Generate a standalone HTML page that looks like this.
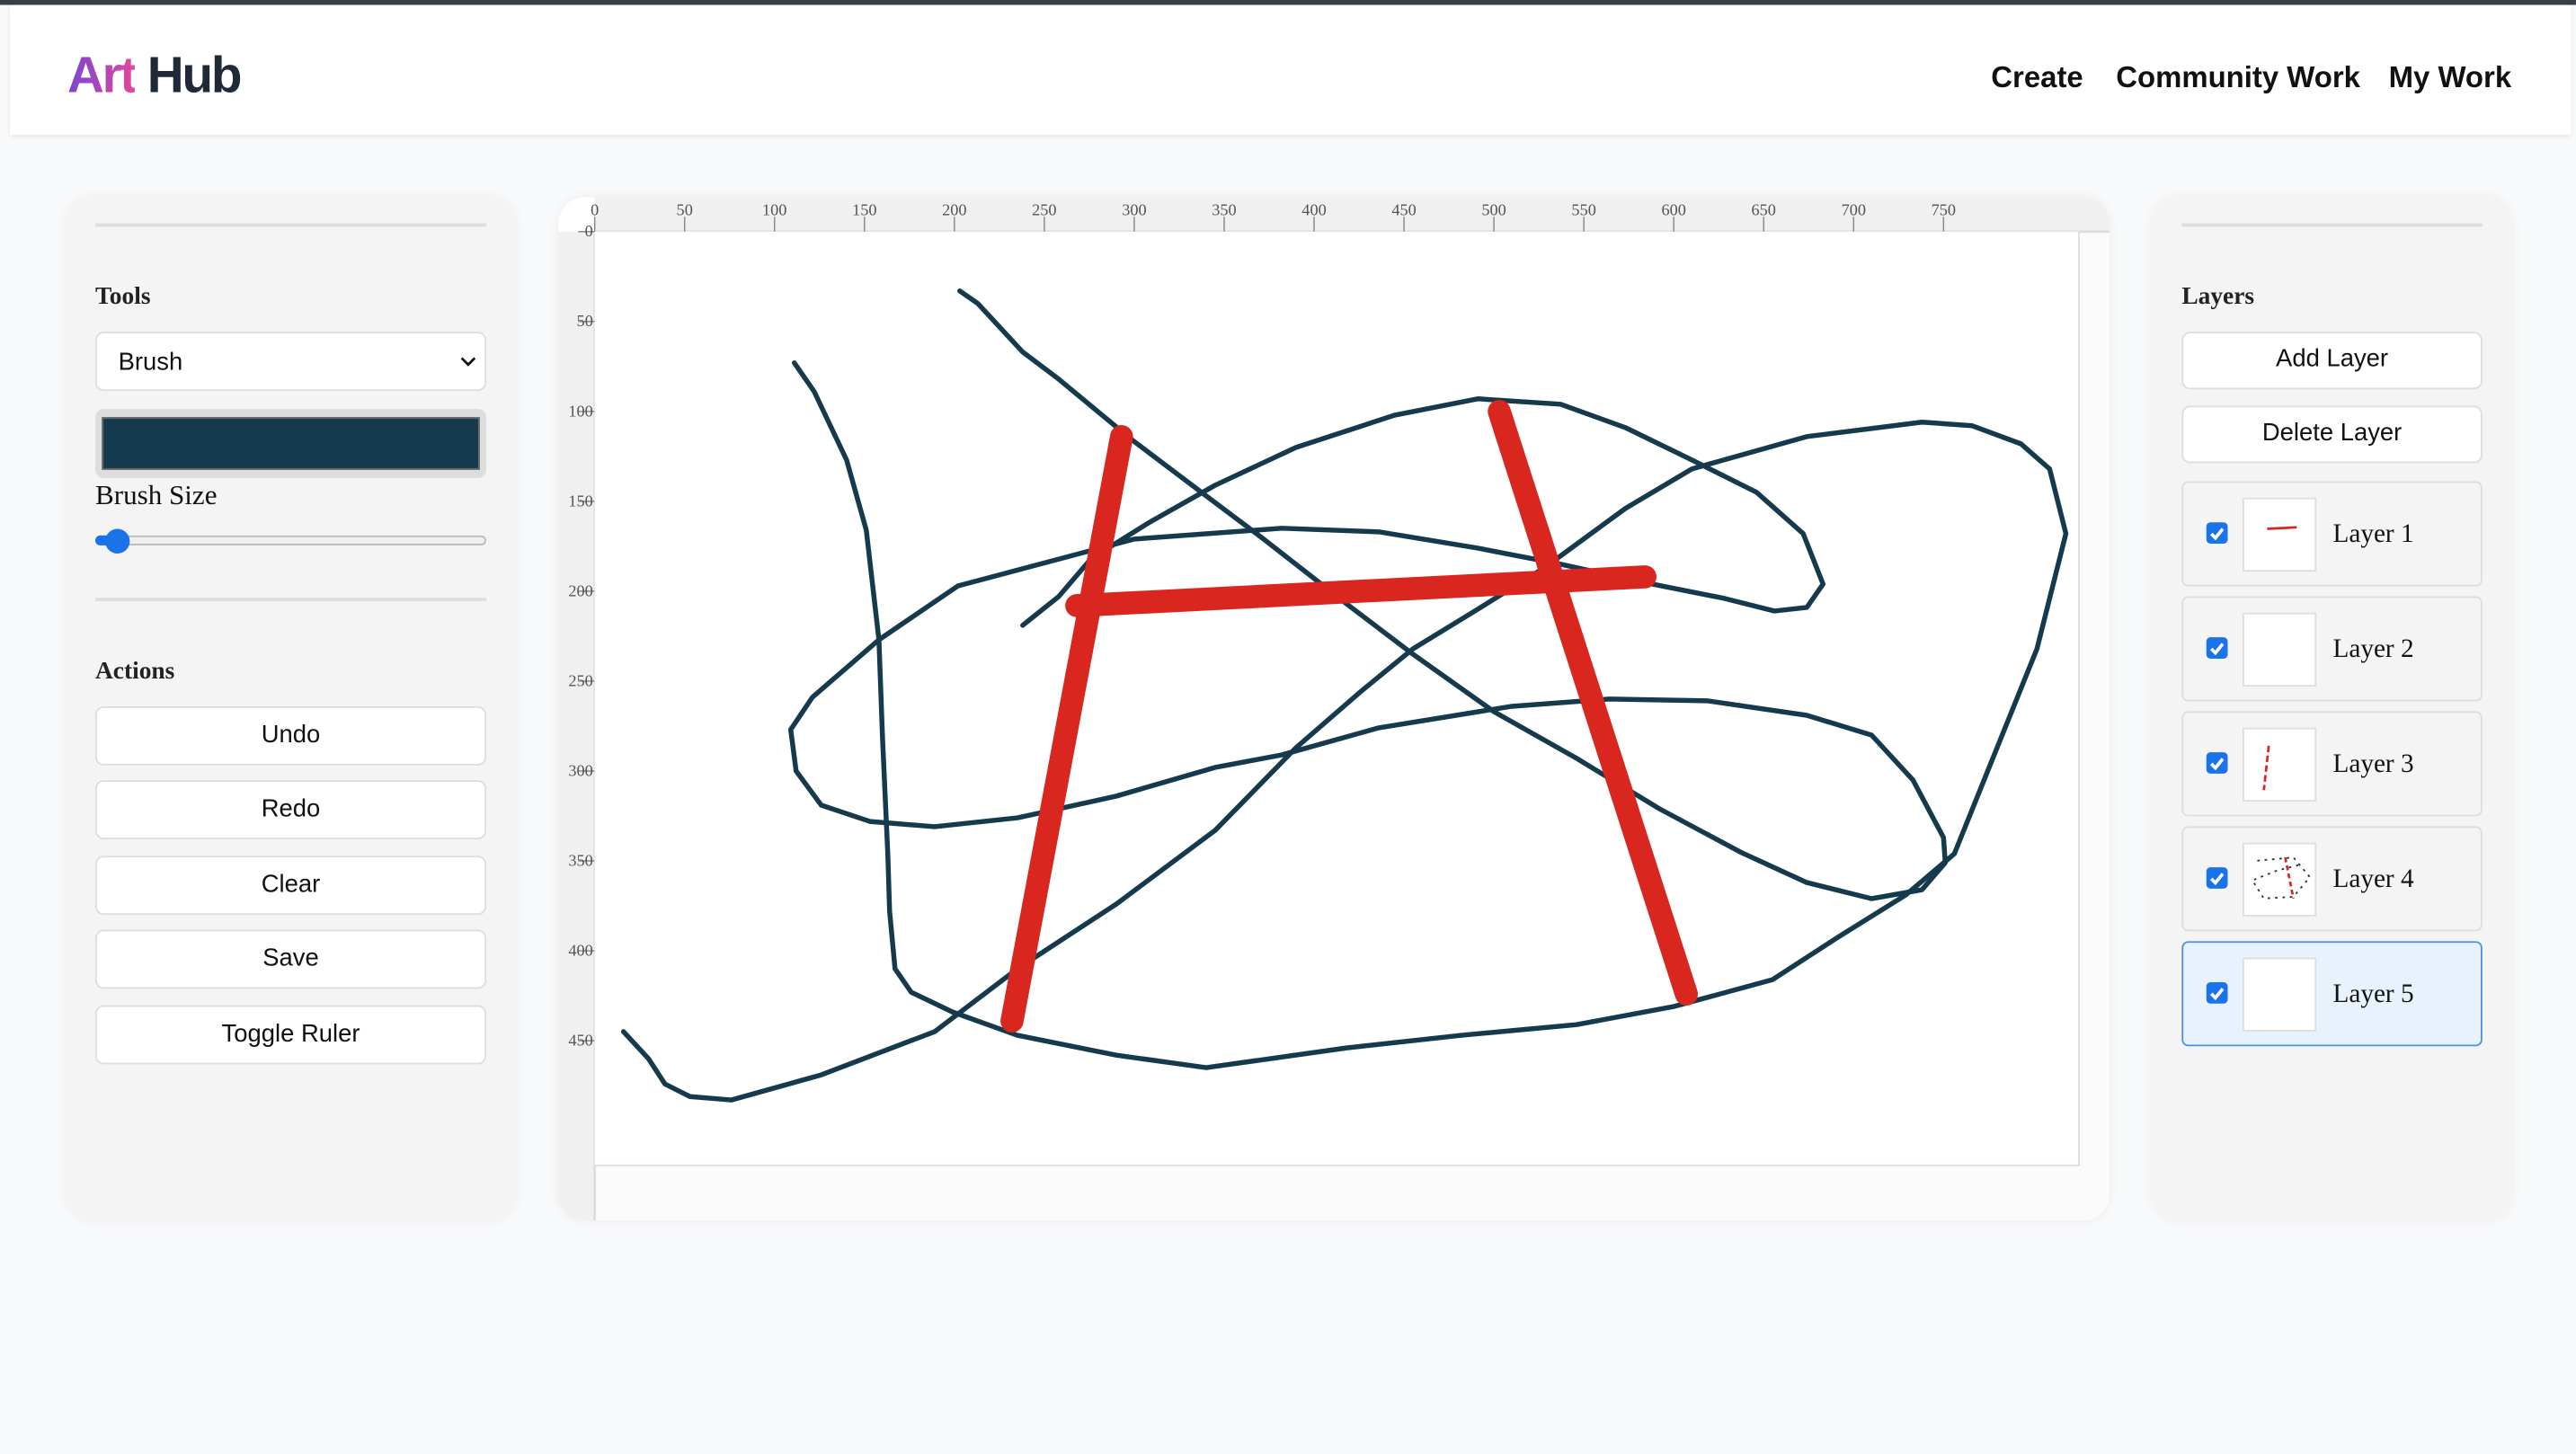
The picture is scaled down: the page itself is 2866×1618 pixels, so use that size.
<!DOCTYPE html>
<html><head><meta charset="utf-8"><style>
html,body{margin:0;padding:0;}
body{width:2866px;height:1618px;overflow:hidden;background:#f8f9fa;}
#wrap{position:absolute;left:0;top:0;width:1568px;height:885px;transform:scale(1.8278);transform-origin:0 0;font-family:"Liberation Sans",sans-serif;}
.abs{position:absolute;}
#topbar{left:0;top:0;width:1568px;height:2.5px;background:#3a3d4a;}
#header{left:6px;top:3px;width:1559px;height:79px;background:#fff;box-shadow:0 1px 3px rgba(0,0,0,.1);}
#logo{left:35px;top:25px;font-size:31px;font-weight:bold;letter-spacing:-1.2px;color:#1f2937;}
#logo span{background:linear-gradient(90deg,#7a45d3,#e0489a);-webkit-background-clip:text;background-clip:text;color:transparent;}
.nav{top:34px;font-size:18px;font-weight:bold;color:#111;}
.panel{background:#f4f4f4;border-radius:16px;box-shadow:0 0 6px rgba(0,0,0,.05);}
.div{height:2px;background:#ddd;}
.h{font-family:"Liberation Serif",serif;font-weight:bold;font-size:15px;color:#222;}
.btn{background:#fff;border:1.5px solid #ddd;border-radius:5px;box-sizing:border-box;text-align:center;font-size:15px;color:#111;}
.layer{left:1328px;width:183px;height:64px;background:#f4f4f4;border:1.5px solid #ddd;border-radius:4px;box-sizing:border-box;}
.cb{left:14px;width:13px;height:13px;background:#1a73e8;border-radius:2.5px;top:24px;}
.th{left:36px;top:9px;width:45px;height:45px;background:#fff;border:1px solid #ddd;box-sizing:border-box;}
.lt{left:91px;top:23px;font-family:"Liberation Serif",serif;font-size:16px;color:#111;}
</style></head><body>
<div id="wrap">
<div id="topbar" class="abs"></div>
<div id="header" class="abs">
 <div id="logo" class="abs"><span>Art</span> Hub</div>
 <div class="abs nav" style="left:1206px">Create</div>
 <div class="abs nav" style="left:1282px">Community Work</div>
 <div class="abs nav" style="left:1448px">My Work</div>
</div>

<div class="abs panel" style="left:40px;top:120px;width:274px;height:623px">
 <div class="abs div" style="left:18px;top:16px;width:238px"></div>
 <div class="abs h" style="left:18px;top:53px">Tools</div>
 <div class="abs btn" style="left:18px;top:82px;width:238px;height:36px;text-align:left;padding:9px 0 0 13px">Brush
  <svg class="abs" style="right:5px;top:13px" width="10" height="8" viewBox="0 0 10 8"><path d="M1 2 L5 6 L9 2" fill="none" stroke="#111" stroke-width="1.5"/></svg></div>
 <div class="abs" style="left:18px;top:129px;width:238px;height:42px;background:#ddd;border-radius:5px">
  <div class="abs" style="left:4px;top:5px;width:230px;height:32px;background:#163a4d;border:1.5px solid #666;box-sizing:border-box"></div></div>
 <div class="abs" style="left:18px;top:172px;font-family:'Liberation Serif',serif;font-size:17px;color:#111">Brush Size</div>
 <div class="abs" style="left:18px;top:206px;width:238px;height:6px;background:#efefef;border:1px solid #bbb;border-radius:4px;box-sizing:border-box"></div>
 <div class="abs" style="left:18px;top:206px;width:14px;height:6px;background:#1a73e8;border-radius:4px"></div>
 <div class="abs" style="left:24px;top:202px;width:15px;height:15px;background:#1a73e8;border-radius:50%"></div>
 <div class="abs div" style="left:18px;top:244px;width:238px"></div>
 <div class="abs h" style="left:18px;top:281px">Actions</div>
 <div class="abs btn" style="left:18px;top:310px;width:238px;height:36px;line-height:33px">Undo</div>
 <div class="abs btn" style="left:18px;top:355px;width:238px;height:36px;line-height:33px">Redo</div>
 <div class="abs btn" style="left:18px;top:401px;width:238px;height:36px;line-height:33px">Clear</div>
 <div class="abs btn" style="left:18px;top:446px;width:238px;height:36px;line-height:33px">Save</div>
 <div class="abs btn" style="left:18px;top:492px;width:238px;height:36px;line-height:33px">Toggle Ruler</div>
</div>

<div class="abs" style="left:340px;top:120px;width:944px;height:623px;background:#fbfbfb;border-radius:16px;overflow:hidden;box-shadow:0 0 6px rgba(0,0,0,.05)">
 <svg class="abs" style="left:0;top:0" width="944" height="623">
  <rect x="22" y="0" width="922" height="21" fill="#f0f0f0"/>
  <rect x="0" y="21" width="22" height="602" fill="#f0f0f0"/>
  <rect x="0" y="0" width="22" height="21" fill="#fff"/>
  <line x1="22" y1="21" x2="944" y2="21" stroke="#ddd" stroke-width="1.5"/>
  <line x1="22" y1="21" x2="22" y2="623" stroke="#ddd" stroke-width="1.5"/>
  <g id="ticks"></g>
 </svg>
 <svg class="abs" style="left:22px;top:21px;background:#fff;border-right:1.5px solid #ddd;border-bottom:1.5px solid #ddd" width="903" height="568">
  <g id="strokes" fill="none" stroke-linecap="round" stroke-linejoin="round"></g>
 </svg>
</div>

<div class="abs panel" style="left:1310px;top:120px;width:219px;height:623px">
 <div class="abs div" style="left:18px;top:16px;width:183px"></div>
 <div class="abs h" style="left:18px;top:53px">Layers</div>
</div>
<div class="abs btn" style="left:1328px;top:202px;width:183px;height:35px;line-height:32px">Add Layer</div>
<div class="abs btn" style="left:1328px;top:247px;width:183px;height:35px;line-height:32px">Delete Layer</div>

<div class="abs layer" style="top:293px">
 <div class="abs cb"><svg width="13" height="13"><path d="M3 7 L5.5 9.5 L10 4" fill="none" stroke="#fff" stroke-width="2"/></svg></div>
 <div class="abs th"><svg width="45" height="45"><path d="M14 18 L32 17" stroke="#d9261f" stroke-width="1.5"/></svg></div>
 <div class="abs lt">Layer 1</div></div>
<div class="abs layer" style="top:363px">
 <div class="abs cb"><svg width="13" height="13"><path d="M3 7 L5.5 9.5 L10 4" fill="none" stroke="#fff" stroke-width="2"/></svg></div>
 <div class="abs th"></div>
 <div class="abs lt">Layer 2</div></div>
<div class="abs layer" style="top:433px">
 <div class="abs cb"><svg width="13" height="13"><path d="M3 7 L5.5 9.5 L10 4" fill="none" stroke="#fff" stroke-width="2"/></svg></div>
 <div class="abs th"><svg width="45" height="45"><path d="M15 10 L12 37" stroke="#d9261f" stroke-width="1.5" stroke-dasharray="4 2"/></svg></div>
 <div class="abs lt">Layer 3</div></div>
<div class="abs layer" style="top:503px">
 <div class="abs cb"><svg width="13" height="13"><path d="M3 7 L5.5 9.5 L10 4" fill="none" stroke="#fff" stroke-width="2"/></svg></div>
 <div class="abs th"><svg width="45" height="45"><g fill="none" stroke-width="1" stroke-dasharray="1.5 3"><path d="M8 10 L30 8 L40 20 L30 32 L12 33 L5 22 L20 16 L36 12" stroke="#163a4d"/></g><path d="M25 8 L30 33" stroke="#d9261f" stroke-width="1.5" stroke-dasharray="3 2"/></svg></div>
 <div class="abs lt">Layer 4</div></div>
<div class="abs layer" style="top:573px;background:#e8f2fd;border-color:#4a90e2">
 <div class="abs cb"><svg width="13" height="13"><path d="M3 7 L5.5 9.5 L10 4" fill="none" stroke="#fff" stroke-width="2"/></svg></div>
 <div class="abs th"></div>
 <div class="abs lt">Layer 5</div></div>
</div>
<script>
// stroke points in ruler units (canvas coordinates)
const strokeLoop=[[203,33],[213,40],[238,67],[258,82],[299,116],[340,147],[372,171],[418,207],[455,235],[500,267],[546,293],[592,321],[637,345],[674,362],[710,371],[738,366],[751,351],[750,337],[733,305],[710,280],[674,269],[619,261],[564,260],[510,264],[436,276],[382,291],[345,298],[290,314],[235,326],[189,331],[153,328],[126,319],[112,300],[109,277],[121,259],[158,227],[202,197],[300,171],[382,165],[436,167],[491,176],[537,185],[583,195],[628,204],[656,211],[674,209],[683,196],[672,168],[646,145],[610,127],[573,109],[537,96],[491,93],[445,102],[390,120],[345,141],[308,162],[276,182],[258,203],[238,219]];
const strokeOuter=[[111,73],[122,89],[140,127],[151,166],[158,227],[160,282],[163,346],[164,378],[167,410],[176,423],[199,434],[235,447],[290,458],[340,465],[418,454],[482,447],[546,441],[600,431],[655,416],[692,392],[729,369],[756,346],[802,232],[818,168],[809,132],[793,118],[766,108],[738,106],[674,114],[610,132],[573,154],[528,187],[491,210],[455,232],[427,255],[390,287],[345,333],[290,374],[235,410],[189,445],[126,469],[76,483],[53,481],[39,474],[30,460],[16,445]];
const redLeft=[[293,114],[232,439]];
const redRight=[[503,100],[607,424]];
const redCross=[[268,208],[584,192]];
const xTicks=[0,50,100,150,200,250,300,350,400,450,500,550,600,650,700,750];
const yTicks=[0,50,100,150,200,250,300,350,400,450];
const K=1.0947;
const sx=v=>v*K, sy=v=>v*K;
const NS="http://www.w3.org/2000/svg";
const g=document.getElementById('strokes');
function draw(pts,color,w,name){
  const p=document.createElementNS(NS,'path');
  p.setAttribute('d',pts.map((q,i)=>(i?'L':'M')+sx(q[0]).toFixed(1)+' '+sy(q[1]).toFixed(1)).join(' '));
  p.setAttribute('stroke',color);p.setAttribute('stroke-width',w);
  
  
  g.appendChild(p);
}
draw(strokeLoop,'#163a4d',3,'stroke-loop');
draw(strokeOuter,'#163a4d',3,'stroke-outer');
draw(redLeft,'#d9261f',14,'red-stroke-left');
draw(redRight,'#d9261f',14,'red-stroke-right');
draw(redCross,'#d9261f',14,'red-stroke-cross');
const t=document.getElementById('ticks');
xTicks.forEach(v=>{
  const x=22+sx(v);
  const l=document.createElementNS(NS,'line');
  l.setAttribute('x1',x);l.setAttribute('x2',x);l.setAttribute('y1',12);l.setAttribute('y2',21);
  l.setAttribute('stroke','#888');l.setAttribute('stroke-width','0.8');
  
  
  t.appendChild(l);
  const tx=document.createElementNS(NS,'text');
  tx.setAttribute('x',x);tx.setAttribute('y',11);tx.setAttribute('text-anchor','middle');
  tx.setAttribute('font-family','Liberation Serif, serif');tx.setAttribute('font-size','10');tx.setAttribute('fill','#555');
  tx.textContent=v;
  
  
  t.appendChild(tx);
});
yTicks.forEach(v=>{
  const y=21+sy(v);
  const l=document.createElementNS(NS,'line');
  l.setAttribute('x1',12);l.setAttribute('x2',22);l.setAttribute('y1',y);l.setAttribute('y2',y);
  l.setAttribute('stroke','#888');l.setAttribute('stroke-width','0.8');
  
  
  t.appendChild(l);
  const tx=document.createElementNS(NS,'text');
  tx.setAttribute('x',21);tx.setAttribute('y',y+3);tx.setAttribute('text-anchor','end');
  tx.setAttribute('font-family','Liberation Serif, serif');tx.setAttribute('font-size','10');tx.setAttribute('fill','#555');
  tx.textContent=v;
  
  
  t.appendChild(tx);
});
</script>
</body></html>
